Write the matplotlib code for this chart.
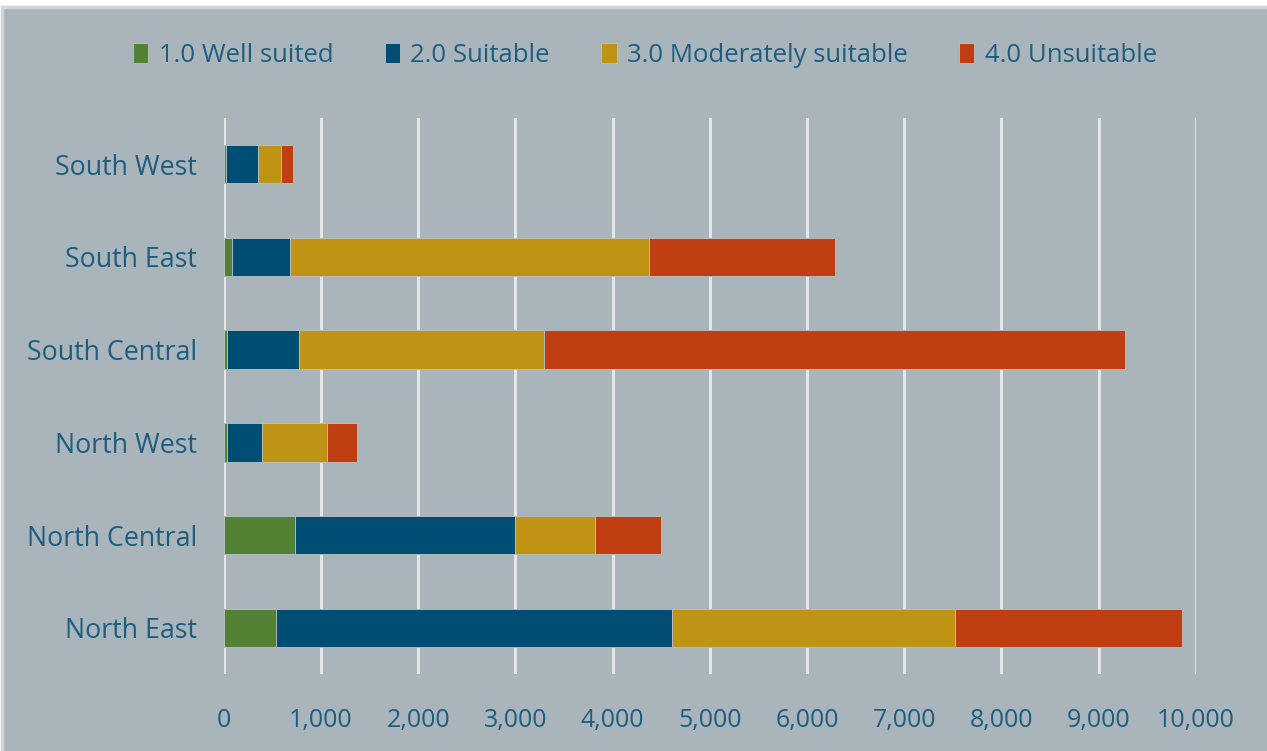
import matplotlib.pyplot as plt
from matplotlib.patches import Rectangle

# regions, listed bottom to top so North East sits at the bottom
regions = ['North East', 'North Central', 'North West',
           'South Central', 'South East', 'South West']

# area in each suitability class, per region
well_suited = [541, 730, 30, 30, 82, 20]
suitable = [4068, 2270, 367, 748, 600, 330]
moderately = [2915, 820, 663, 2521, 3690, 236]
unsuitable = [2335, 676, 311, 5977, 1920, 127]

classes = ['1.0 Well suited', '2.0 Suitable',
           '3.0 Moderately suitable', '4.0 Unsuitable']
colors = ['#548235', '#004E73', '#BF9414', '#BF3F13']

xticks = list(range(0, 10001, 1000))

bg = '#AAB5BB'
txt = '#1D5E80'

plt.rcParams['font.family'] = ['Open Sans', 'DejaVu Sans']

fig = plt.figure(figsize=(12.67, 7.51), dpi=100)
fig.patch.set_facecolor('white')
# panel behind everything, with a thin grey frame
fig.patches.append(Rectangle((2 / 1267, -0.01), 1.0, 1 - 7 / 751 + 0.01,
                             transform=fig.transFigure, facecolor=bg,
                             edgecolor='#D2D4D5', linewidth=2.5, zorder=-10))

ax = fig.add_axes([0.1766, 0.102, 0.7672, 0.7414])
ax.set_facecolor(bg)
ax.patch.set_alpha(0)

# stack the four classes left to right
left = [0] * len(regions)
for vals, name, col in zip([well_suited, suitable, moderately, unsuitable],
                           classes, colors):
    ax.barh(regions, vals, left=left, height=0.415, color=col, label=name,
            edgecolor='#B9C1C5', linewidth=0.6, zorder=3)
    left = [a + b for a, b in zip(left, vals)]

ax.set_xlim(0, 10000)
ax.set_ylim(-0.5, 5.5)
ax.set_xticks(xticks)
ax.set_xticklabels(['{:,}'.format(v) for v in xticks])
ax.grid(axis='x', color='#E3E5E6', linewidth=2.2, zorder=1)
ax.set_axisbelow(True)
for s in ax.spines.values():
    s.set_visible(False)
ax.tick_params(axis='x', length=0, pad=24, labelsize=18, labelcolor=txt)
ax.tick_params(axis='y', length=0, pad=19, labelsize=19.3, labelcolor=txt)

handles, labels = ax.get_legend_handles_labels()
fig.legend(handles, labels, loc='center', bbox_to_anchor=(0.509, 0.926),
           ncol=4, frameon=False, fontsize=18.5, labelcolor=txt,
           handlelength=0.6, handleheight=0.8, handletextpad=0.4,
           columnspacing=2.0)

fig.savefig('out.png', dpi=100, facecolor=fig.get_facecolor())
